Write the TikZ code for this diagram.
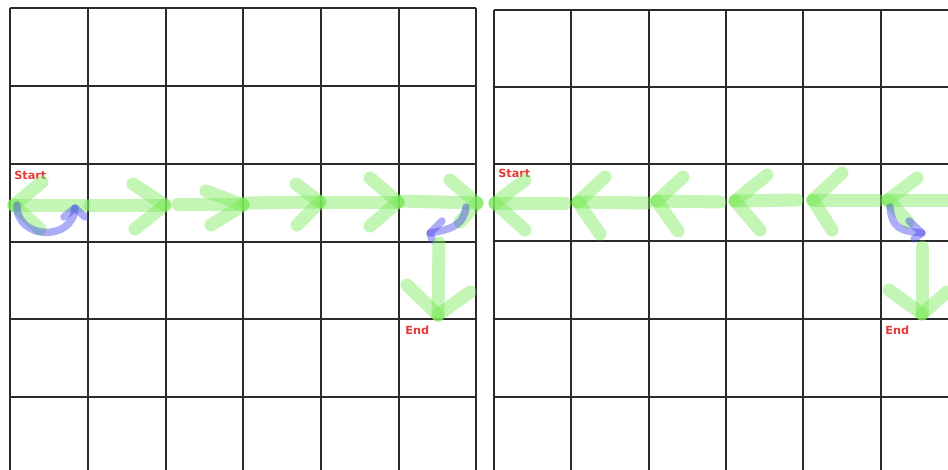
\documentclass[tikz,border=0pt]{standalone}
\usepackage{fontspec}
\usepackage{xcolor}
\usepackage{tikz}
\newfontfamily\labelfont{DejaVu Sans}
\definecolor{gridgray}{HTML}{2B2B2B}
\definecolor{pathgreen}{HTML}{7CEB5A}
\definecolor{turnblue}{HTML}{4747EE}
\definecolor{markred}{HTML}{E53935}

\begin{document}
\begin{tikzpicture}[
    x=0.02cm, y=-0.02cm,
    gridline/.style={draw=gridgray, line width=1.15pt},
    move/.style={draw=pathgreen, draw opacity=0.45, line width=7.4pt,
                 line cap=round, line join=round},
    turn/.style={draw=turnblue, draw opacity=0.45, line width=4.2pt,
                 line cap=round, line join=round},
    celllabel/.style={text=markred, font=\labelfont\bfseries\fontsize{6.4}{7}\selectfont,
                 inner sep=0pt, anchor=west}
]
    \useasboundingbox (0,0) rectangle (948,470);
    \clip (0,0) rectangle (948,470);
    \fill[white] (0,0) rectangle (948,470);

    % left board
    \foreach \x in {10,88,166,243,321,399,476}
        \draw[gridline] (\x,8) -- (\x,475);
    \foreach \y in {8,86,164,242,319,397}
        \draw[gridline] (10,\y) -- (476,\y);

    % right board
    \foreach \x in {494,571,649,726,803,881}
        \draw[gridline] (\x,10) -- (\x,475);
    \draw[gridline] (494,10) -- (955,10);
    \foreach \y in {87,164,241,319,397}
        \draw[gridline] (494,\y) -- (955,\y);

    % labels
    \node[celllabel] (startA) at (14,175) {Start};
    \node[celllabel] (endA) at (405,330) {End};
    \node[celllabel] (startB) at (498,173) {Start};
    \node[celllabel] (endB) at (885,330) {End};

    % left board: turn around, then go right
    \draw[move] (14,205) -- (84,205);
    \draw[move] (42,182) -- (14,205);
    \draw[move] (14,205) -- (40,229);
    \draw[turn] (17,205) .. controls (16,240) and (73,242) .. (75,208);
    \draw[turn] (64,217) -- (75,208) -- (85,217);

    \draw[move] (90,205) -- (163,205);
    \draw[move] (133,184) -- (165,205);
    \draw[move] (135,229) -- (165,205);

    \draw[move] (178,204) -- (243,204);
    \draw[move] (206,191) -- (243,205);
    \draw[move] (211,225) -- (243,205);

    \draw[move] (245,203) -- (319,202);
    \draw[move] (296,184) -- (320,202);
    \draw[move] (297,225) -- (320,202);

    \draw[move] (323,202) -- (398,202);
    \draw[move] (370,178) -- (398,202);
    \draw[move] (370,226) -- (398,202);

    \draw[move] (400,201) -- (477,203);
    \draw[move] (450,180) -- (477,203);
    \draw[move] (477,203) -- (460,222);
    \draw[turn] (466,207) .. controls (464,223) and (455,229) .. (430,233);
    \draw[turn] (442,221) -- (430,233) -- (432,240);

    \draw[move] (439,243) -- (438,315);
    \draw[move] (407,285) -- (438,315);
    \draw[move] (470,292) -- (438,315);

    % right board: go left all the way
    \draw[move] (495,203) -- (565,203);
    \draw[move] (525,180) -- (495,203);
    \draw[move] (495,203) -- (525,230);

    \draw[move] (578,202) -- (647,203);
    \draw[move] (605,177) -- (578,202);
    \draw[move] (578,202) -- (600,234);

    \draw[move] (657,201) -- (720,202);
    \draw[move] (683,177) -- (657,201);
    \draw[move] (657,201) -- (678,231);

    \draw[move] (735,201) -- (797,200);
    \draw[move] (767,175) -- (735,201);
    \draw[move] (735,201) -- (760,230);

    \draw[move] (813,200) -- (878,200);
    \draw[move] (842,173) -- (813,200);
    \draw[move] (813,200) -- (832,230);

    \draw[move] (888,200) -- (960,200);
    \draw[move] (917,178) -- (888,200);
    \draw[move] (888,200) -- (908,222);
    \draw[turn] (890,207) .. controls (892,228) and (900,231) .. (922,233);
    \draw[turn] (909,221) -- (922,233) -- (914,239);

    \draw[move] (922,247) -- (922,314);
    \draw[move] (889,290) -- (922,314);
    \draw[move] (947,292) -- (922,314);
\end{tikzpicture}
\end{document}
